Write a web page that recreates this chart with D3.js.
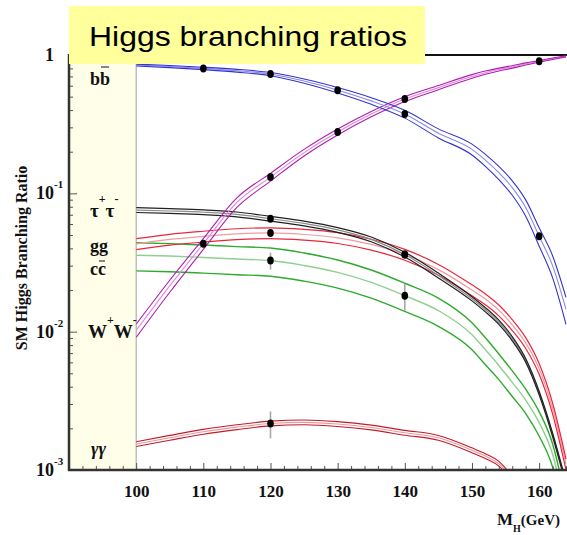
<!DOCTYPE html>
<html>
<head>
<meta charset="utf-8">
<script src="https://cdn.jsdelivr.net/npm/d3@7"></script>
<style>
  html, body { margin: 0; padding: 0; background: #fff; }
  svg { display: block; }
</style>
</head>
<body>
<svg id="chart" width="567" height="535"></svg>
<script>
// Higgs mass grid (GeV) shared by every channel
const mass = [100, 105, 110, 115, 120, 125, 130, 135, 140, 145, 150, 152, 154, 156, 158, 160, 162, 164];

// Central branching ratios per decay channel
const brBB   = [0.846, 0.825, 0.80, 0.77, 0.728, 0.648, 0.557, 0.466, 0.374, 0.272, 0.208, 0.174, 0.141, 0.11, 0.079, 0.049, 0.030, 0.0145];
const brWW   = [0.0102, 0.0214, 0.0432, 0.086, 0.131, 0.197, 0.278, 0.374, 0.48, 0.581, 0.70, 0.745, 0.785, 0.82, 0.862, 0.90, 0.94, 0.978];
const brTT   = [0.0757, 0.0745, 0.073, 0.0705, 0.0655, 0.0606, 0.0544, 0.0465, 0.0361, 0.0255, 0.0173, 0.0144, 0.0117, 0.0089, 0.0062, 0.0036, 0.0018, 0.0008];
const brGG   = [0.0431, 0.0464, 0.0488, 0.0509, 0.0517, 0.0504, 0.0477, 0.0427, 0.0361, 0.0281, 0.020, 0.0172, 0.0143, 0.0112, 0.0083, 0.0054, 0.0028, 0.0011];
const brCC   = [0.0357, 0.0352, 0.0344, 0.0335, 0.0327, 0.0301, 0.0268, 0.0227, 0.0182, 0.0142, 0.0095, 0.0074, 0.0057, 0.0043, 0.0032, 0.0022, 0.0013, 0.0005];
const brGaGa = [0.00154, 0.00171, 0.00189, 0.00204, 0.00217, 0.00221, 0.00215, 0.00203, 0.00186, 0.00171, 0.00139, 0.00126, 0.00111, 0.00086, 0.0006, null, null, null];

// Relative theoretical uncertainty (%) per channel along the mass grid
const errBB   = [1.5, 1.7, 2, 2.3, 2.7, 3.5, 4.5, 5.5, 6.5, 7.5, 9, 10, 11, 12, 13.5, 15, 18, 22];
const errWW   = [11, 10, 9, 8, 6.5, 5.5, 5, 4.5, 4, 3.5, 3, 2.7, 2.4, 2, 1.7, 1.4, 1.2, 1];
const errTT   = [4, 4, 4, 4, 4, 4, 4, 4, 4, 4, 3.5, 3.5, 3.5, 3.5, 3, 3, 3, 3];
const errGG   = [9, 9, 9, 9, 9, 9, 9, 9, 9, 9, 9, 9, 9, 9, 9, 9, 9, 9];
const errCC   = [23, 23, 23, 23, 23, 23, 23, 23, 23, 23, 22, 22, 21, 21, 20, 20, 19, 19];
const errGaGa = [4, 4, 4, 4, 4, 4, 4, 4, 4, 4, 4, 4, 4, 4, 4, 4, 4, 4];

// Measurement points (mass) and their relative errors (%)
const dotsBB = [110, 120, 130, 140, 160];
const dotsWW = [110, 120, 130, 140, 160];
const dotsTT = [120, 140];
const dotsGG = [120, 140];
const dotsCC = [120, 140];
const dotErrCC = [14, 22];
const dotsGaGa = [120];
const dotErrGaGa = [22];

// Axis ticks
const xMajor = [100, 110, 120, 130, 140, 150, 160];
const yMajor = [1, 0.1, 0.01, 0.001];
const yLabelExp = ["", "-1", "-2", "-3"];

const titleText = "Higgs branching ratios";
const yTitle = "SM Higgs Branching Ratio";

const svg = d3.select("#chart");
const serif = "'Liberation Serif', 'DejaVu Serif', 'Times New Roman', serif";

const x = d3.scaleLinear().domain([90, 164]).range([69, 566]);
const y = d3.scaleLog().domain([1e-3, 1]).range([470, 55]);

// channel label panel
svg.append("rect")
  .attr("x", x(90)).attr("y", y(1))
  .attr("width", x(100) - x(90)).attr("height", y(1e-3) - y(1))
  .attr("fill", "#fffee9");
svg.append("line")
  .attr("x1", x(100)).attr("x2", x(100))
  .attr("y1", y(1)).attr("y2", y(1e-3))
  .attr("stroke", "#a0a0a0").attr("stroke-width", 1);

// top frame line
svg.append("line")
  .attr("x1", x(90)).attr("x2", 567)
  .attr("y1", y(1)).attr("y2", y(1))
  .attr("stroke", "#111").attr("stroke-width", 2);

// clip for curves
svg.append("clipPath").attr("id", "plotClip")
  .append("rect")
  .attr("x", x(100)).attr("y", y(1) - 2)
  .attr("width", 567 - x(100)).attr("height", y(1e-3) - y(1) + 2);

const plot = svg.append("g").attr("clip-path", "url(#plotClip)");

const line = d3.line()
  .defined(d => d.v != null)
  .x(d => x(d.m))
  .y(d => y(d.v))
  .curve(d3.curveMonotoneX);

function band(values, errs, outer, inner, width) {
  const lo = mass.map((m, i) => ({ m, v: values[i] == null ? null : values[i] * (1 - errs[i] / 100) }));
  const hi = mass.map((m, i) => ({ m, v: values[i] == null ? null : values[i] * (1 + errs[i] / 100) }));
  const mid = mass.map((m, i) => ({ m, v: values[i] }));
  const g = plot.append("g").attr("fill", "none");
  g.append("path").attr("d", line(mid)).attr("stroke", inner).attr("stroke-width", width);
  g.append("path").attr("d", line(lo)).attr("stroke", outer).attr("stroke-width", width);
  g.append("path").attr("d", line(hi)).attr("stroke", outer).attr("stroke-width", width);
}

band(brCC, errCC, "#2eaa2e", "#8fd08f", 1.4);
band(brGG, errGG, "#e8283a", "#f09aa2", 1.2);
band(brTT, errTT, "#202020", "#8a8a8a", 1.2);
band(brGaGa, errGaGa, "#c01c2c", "#e89a9a", 1.1);
band(brWW, errWW, "#b01cb0", "#dc8adc", 1.1);
band(brBB, errBB, "#3434cc", "#8a8ae6", 1.1);

// measurement points
function valueAt(arr, m) { return arr[mass.indexOf(m)]; }
const pts = [];
dotsBB.forEach(m => pts.push({ m, v: valueAt(brBB, m), e: 0 }));
dotsWW.forEach(m => pts.push({ m, v: valueAt(brWW, m), e: 0 }));
dotsTT.forEach(m => pts.push({ m, v: valueAt(brTT, m), e: 0 }));
dotsGG.forEach(m => pts.push({ m, v: valueAt(brGG, m), e: 0 }));
dotsCC.forEach((m, i) => pts.push({ m, v: valueAt(brCC, m), e: dotErrCC[i] }));
dotsGaGa.forEach((m, i) => pts.push({ m, v: valueAt(brGaGa, m), e: dotErrGaGa[i] }));

svg.append("g").selectAll("line")
  .data(pts.filter(d => d.e > 0))
  .join("line")
  .attr("x1", d => x(d.m)).attr("x2", d => x(d.m))
  .attr("y1", d => y(d.v * (1 + d.e / 100)))
  .attr("y2", d => y(d.v * (1 - d.e / 100)))
  .attr("stroke", "#a8a8a8").attr("stroke-width", 1.6);

svg.append("g").selectAll("ellipse")
  .data(pts)
  .join("ellipse")
  .attr("cx", d => x(d.m)).attr("cy", d => y(d.v))
  .attr("rx", 3.3).attr("ry", 4)
  .attr("fill", "#000");

// left axis: ticks pointing into the plot
const yMinor = [];
[0.001, 0.01, 0.1].forEach(dec => { for (let k = 2; k <= 9; k++) yMinor.push(dec * k); });
const yAxisMinor = d3.axisRight(y).tickValues(yMinor).tickSize(4).tickFormat("");
const yAxisMajor = d3.axisRight(y).tickValues(yMajor).tickSize(8).tickFormat("");
[yAxisMinor, yAxisMajor].forEach(ax => {
  const g = svg.append("g").attr("transform", `translate(${x(90)},0)`).call(ax);
  g.select(".domain").remove();
  g.selectAll(".tick line").attr("stroke", "#555").attr("stroke-width", 1);
});
svg.append("line")
  .attr("x1", x(90)).attr("x2", x(90))
  .attr("y1", y(1) - 1).attr("y2", y(1e-3) + 1)
  .attr("stroke", "#333").attr("stroke-width", 2.5);

// y tick labels with exponents
const yl = svg.append("g").attr("font-family", serif).attr("font-weight", "bold").attr("fill", "#111");
yMajor.forEach((v, i) => {
  yl.append("text")
    .attr("x", 54).attr("y", y(v) + 6)
    .attr("text-anchor", "end").attr("font-size", 18)
    .text(i === 0 ? "1" : "10");
  if (yLabelExp[i]) {
    yl.append("text")
      .attr("x", 54).attr("y", y(v) - 5)
      .attr("font-size", 11)
      .text(yLabelExp[i]);
  }
});

// bottom axis
const xMinor = d3.range(92, 165, 2).filter(m => !xMajor.includes(m));
const xAxisMinor = d3.axisBottom(x).tickValues(xMinor).tickSizeInner(-4).tickSizeOuter(0).tickFormat("");
const xAxisMajor = d3.axisBottom(x).tickValues(xMajor).tickSizeInner(-7).tickSizeOuter(0).tickPadding(15).tickFormat(d3.format("d"));
[xAxisMinor, xAxisMajor].forEach(ax => {
  const g = svg.append("g").attr("transform", `translate(0,${y(1e-3)})`).call(ax);
  g.select(".domain").remove();
  g.selectAll(".tick line").attr("stroke", "#555").attr("stroke-width", 1);
  g.selectAll(".tick text")
    .attr("font-family", serif).attr("font-weight", "bold")
    .attr("font-size", 17).attr("fill", "#111");
});
svg.append("line")
  .attr("x1", x(90) - 1).attr("x2", 567)
  .attr("y1", y(1e-3)).attr("y2", y(1e-3))
  .attr("stroke", "#333").attr("stroke-width", 2.5);

// x axis title
const xt = svg.append("text")
  .attr("x", 497).attr("y", 525)
  .attr("font-family", serif).attr("font-weight", "bold").attr("fill", "#111");
xt.append("tspan").attr("font-size", 17).text("M");
xt.append("tspan").attr("font-size", 10).attr("dy", 7).text("H");
xt.append("tspan").attr("font-size", 15).attr("dy", -7).text("(GeV)");

// y axis title
svg.append("text")
  .attr("transform", "translate(27,258) rotate(-90)")
  .attr("text-anchor", "middle")
  .attr("font-family", serif).attr("font-weight", "bold")
  .attr("font-size", 16).attr("fill", "#111")
  .text(yTitle);

// channel labels
const lab = svg.append("g").attr("font-family", serif).attr("font-weight", "bold").attr("fill", "#111");

function barred(txt, bx, by) {
  const t = lab.append("text").attr("x", bx).attr("y", by).attr("font-size", 18).text(txt);
  const ext = t.node().getExtentOfChar(1);
  lab.append("line")
    .attr("x1", ext.x + 1).attr("x2", ext.x + ext.width - 1)
    .attr("y1", by - (txt === "bb" ? 18 : 14)).attr("y2", by - (txt === "bb" ? 18 : 14))
    .attr("stroke", "#111").attr("stroke-width", 1);
}
barred("bb", 90, 85);

function charged(base, bx, by, size) {
  const t = lab.append("text").attr("x", bx).attr("y", by).attr("font-size", size);
  t.append("tspan").text(base);
  t.append("tspan").attr("font-size", 12).attr("dy", -14).text("+");
  t.append("tspan").attr("font-size", size).attr("dy", 14).text(base);
  t.append("tspan").attr("font-size", 12).attr("dy", -14).text("-");
}
charged("τ", 90, 217, 19);
lab.append("text").attr("x", 90).attr("y", 252).attr("font-size", 18).text("gg");
barred("cc", 90, 275);
charged("W", 88, 338, 19);
lab.append("text").attr("x", 91).attr("y", 455).attr("font-size", 18).attr("font-style", "italic").text("γγ");

// title box
svg.append("rect")
  .attr("x", 69).attr("y", 6)
  .attr("width", 356).attr("height", 58)
  .attr("fill", "#ffff9c");
svg.append("text")
  .attr("x", 89).attr("y", 46)
  .attr("font-family", "'Liberation Sans', Arial, sans-serif")
  .attr("font-size", 28).attr("fill", "#000")
  .attr("textLength", 318).attr("lengthAdjust", "spacingAndGlyphs")
  .text(titleText);
</script>
</body>
</html>
